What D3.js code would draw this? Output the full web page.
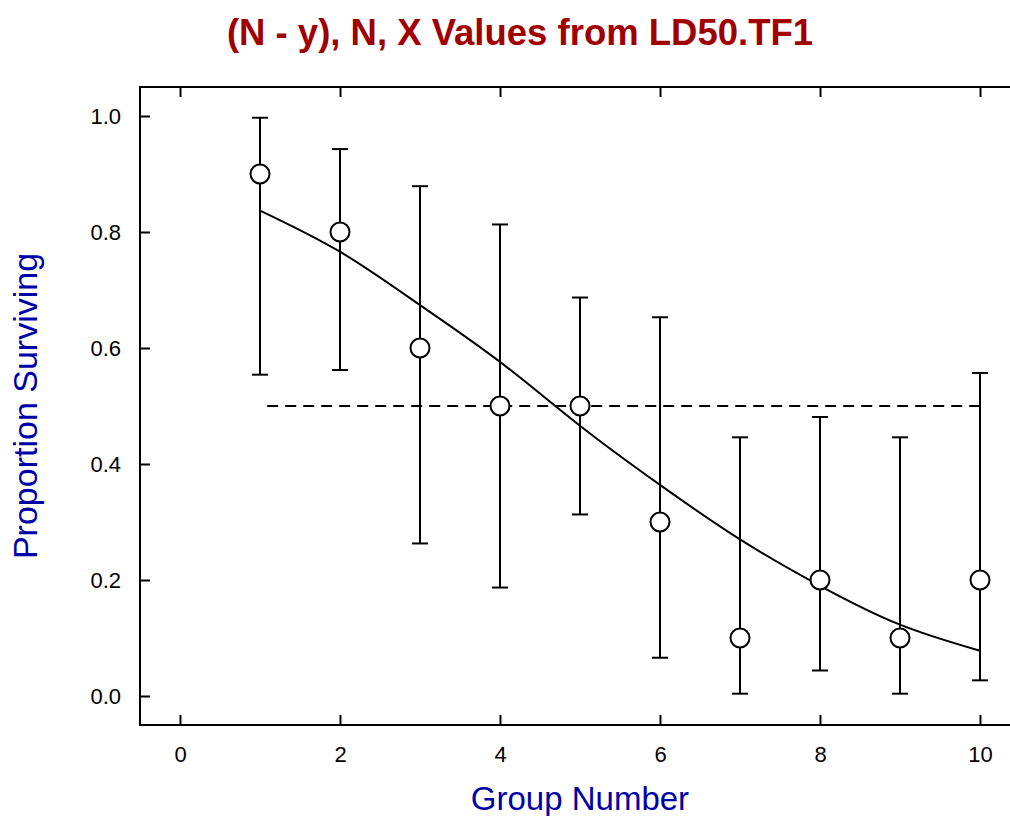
<!DOCTYPE html>
<html>
<head>
<meta charset="utf-8">
<script src="https://cdn.jsdelivr.net/npm/d3@7"></script>
<style>
  html, body { margin: 0; padding: 0; background: #fff; }
  svg { display: block; }
</style>
</head>
<body>
<svg id="chart" width="1010" height="816"></svg>
<script>
// ---- data ----
const groups      = [1, 2, 3, 4, 5, 6, 7, 8, 9, 10];
const proportions = [0.9, 0.8, 0.6, 0.5, 0.5, 0.3, 0.1, 0.2, 0.1, 0.2];
const upperCI     = [0.997, 0.943, 0.879, 0.813, 0.687, 0.653, 0.446, 0.481, 0.446, 0.557];
const lowerCI     = [0.554, 0.562, 0.263, 0.187, 0.313, 0.066, 0.004, 0.044, 0.004, 0.027];
const fitX        = [1, 2, 3, 4, 5, 6, 7, 8, 9, 10];
const fitY        = [0.837, 0.766, 0.674, 0.576, 0.466, 0.364, 0.270, 0.190, 0.123, 0.078];
const ld50Level   = 0.5;
const ld50Span    = [1.09, 10];
const xTicks      = [0, 2, 4, 6, 8, 10];
const yTicks      = [0.0, 0.2, 0.4, 0.6, 0.8, 1.0];

const titleText = "(N - y), N, X Values from LD50.TF1";
const xLabel = "Group Number";
const yLabel = "Proportion Surviving";

// ---- layout ----
const svg = d3.select("#chart");
const mLeft = 140, mRight = 1020, mTop = 87, mBottom = 725;
const x = d3.scaleLinear().domain([-0.5, 10.5]).range([mLeft, mRight]);
const y = d3.scaleLinear().domain([-0.05, 1.05]).range([mBottom, mTop]);

const font = "'Liberation Sans', Arial, Helvetica, sans-serif";

// frame
svg.append("rect")
  .attr("x", mLeft).attr("y", mTop)
  .attr("width", mRight - mLeft).attr("height", mBottom - mTop)
  .attr("fill", "none").attr("stroke", "#000").attr("stroke-width", 2);

// axes
function styleAxis(g) {
  g.select(".domain").remove();
  g.selectAll(".tick line").attr("stroke", "#000").attr("stroke-width", 2);
  g.selectAll(".tick text").attr("fill", "#000")
    .style("font-family", font).style("font-size", "22px");
}

svg.append("g").attr("transform", `translate(0,${mBottom})`)
  .call(d3.axisBottom(x).tickValues(xTicks).tickFormat(d3.format("d"))
        .tickSizeInner(-10).tickSizeOuter(0).tickPadding(21))
  .call(styleAxis);

svg.append("g").attr("transform", `translate(0,${mTop})`)
  .call(d3.axisTop(x).tickValues(xTicks).tickFormat("")
        .tickSizeInner(-10).tickSizeOuter(0))
  .call(styleAxis);

svg.append("g").attr("transform", `translate(${mLeft},0)`)
  .call(d3.axisLeft(y).tickValues(yTicks).tickFormat(d3.format(".1f"))
        .tickSizeInner(-10).tickSizeOuter(0).tickPadding(19))
  .call(styleAxis);

// LD50 dashed reference line
svg.append("line")
  .attr("x1", x(ld50Span[0])).attr("x2", x(ld50Span[1]))
  .attr("y1", y(ld50Level)).attr("y2", y(ld50Level))
  .attr("stroke", "#000").attr("stroke-width", 2)
  .attr("stroke-dasharray", "11,7");

// fitted curve
const fitData = fitX.map((d, i) => [d, fitY[i]]);
svg.append("path")
  .datum(fitData)
  .attr("fill", "none").attr("stroke", "#000").attr("stroke-width", 2)
  .attr("d", d3.line().x(d => x(d[0])).y(d => y(d[1])).curve(d3.curveNatural));

// error bars
const pts = groups.map((g, i) => ({ g, p: proportions[i], lo: lowerCI[i], hi: upperCI[i] }));
const eb = svg.append("g").attr("stroke", "#000").attr("stroke-width", 2);
eb.selectAll(".stem").data(pts).join("line")
  .attr("x1", d => x(d.g)).attr("x2", d => x(d.g))
  .attr("y1", d => y(d.lo)).attr("y2", d => y(d.hi));
eb.selectAll(".capHi").data(pts).join("line")
  .attr("x1", d => x(d.g) - 8).attr("x2", d => x(d.g) + 8)
  .attr("y1", d => y(d.hi)).attr("y2", d => y(d.hi));
eb.selectAll(".capLo").data(pts).join("line")
  .attr("x1", d => x(d.g) - 8).attr("x2", d => x(d.g) + 8)
  .attr("y1", d => y(d.lo)).attr("y2", d => y(d.lo));

// points
svg.append("g").selectAll("circle").data(pts).join("circle")
  .attr("cx", d => x(d.g)).attr("cy", d => y(d.p)).attr("r", 9.5)
  .attr("fill", "#fff").attr("stroke", "#000").attr("stroke-width", 2);

// title
svg.append("text")
  .attr("x", 520).attr("y", 45)
  .attr("text-anchor", "middle")
  .style("font-family", font).style("font-size", "36.5px").style("font-weight", "bold")
  .attr("fill", "#a00000")
  .text(titleText);

// axis labels
svg.append("text")
  .attr("x", (mLeft + mRight) / 2).attr("y", 810)
  .attr("text-anchor", "middle")
  .style("font-family", font).style("font-size", "33px")
  .attr("fill", "#0000a8")
  .text(xLabel);

svg.append("text")
  .attr("transform", `translate(37,${(mTop + mBottom) / 2}) rotate(-90)`)
  .attr("text-anchor", "middle")
  .style("font-family", font).style("font-size", "34px")
  .attr("fill", "#0000a8")
  .text(yLabel);
</script>
</body>
</html>
